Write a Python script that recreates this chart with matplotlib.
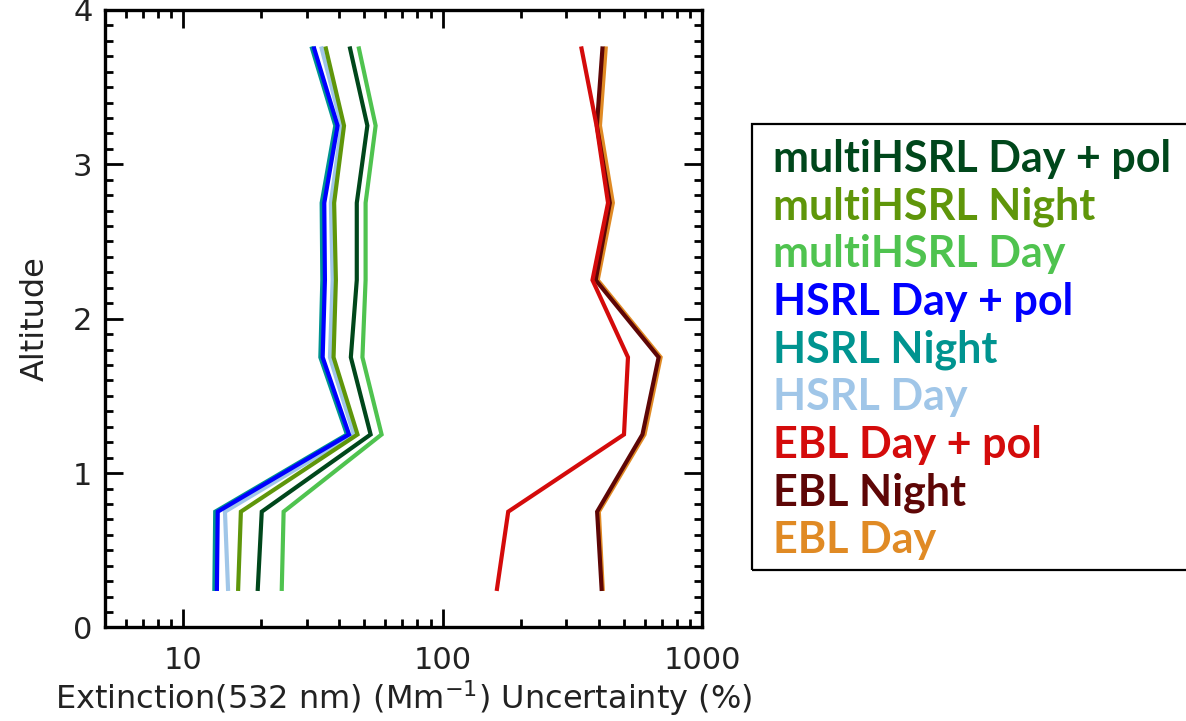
import numpy as np
import matplotlib
matplotlib.use("Agg")
import matplotlib.pyplot as plt
from matplotlib.patches import Rectangle
from matplotlib.ticker import LogLocator, NullFormatter, FixedLocator, MultipleLocator

# ── Data ─────────────────────────────────────────────────────────────────────
altitude = [0.25, 0.75, 1.25, 1.75, 2.25, 2.75, 3.25, 3.75]

multi_day_pol   = [19.4, 20.1, 52.8, 44.3, 46.7, 46.7, 51.3, 44.0]
multi_night     = [16.3, 16.7, 47.0, 38.0, 38.8, 38.2, 41.7, 35.5]
multi_day       = [24.0, 24.4, 58.2, 49.1, 50.5, 50.5, 55.2, 47.6]
hsrl_day_pol    = [13.5, 13.6, 43.6, 34.5, 35.2, 35.0, 39.4, 32.0]
hsrl_night      = [13.2, 13.3, 42.8, 33.8, 34.4, 34.2, 38.6, 31.4]
hsrl_day        = [14.9, 14.5, 45.5, 36.8, 37.7, 37.1, 40.8, 34.2]
ebl_day_pol     = [162, 179, 500, 518, 378, 434, 392, 343]
ebl_night       = [410, 394, 589, 680, 389, 441, 393, 413]
ebl_day         = [414, 400, 600, 692, 396, 453, 404, 425]

labels = ["multiHSRL Day + pol", "multiHSRL Night", "multiHSRL Day",
          "HSRL Day + pol", "HSRL Night", "HSRL Day",
          "EBL Day + pol", "EBL Night", "EBL Day"]
series = [multi_day_pol, multi_night, multi_day,
          hsrl_day_pol, hsrl_night, hsrl_day,
          ebl_day_pol, ebl_night, ebl_day]
colors = ["#00471b", "#5f960a", "#4fc34f",
          "#0000ff", "#009490", "#a0c6e8",
          "#d40b0b", "#5e0606", "#e08a24"]

# ── Figure ──────────────────────────────────────────────────────────────────
W, H = 1186, 721
fig = plt.figure(figsize=(W / 100, H / 100), dpi=100)
ax = fig.add_axes([0.0885, 0.1297, 0.5035, 0.8566])

# IDL-style: last series drawn first
for vals, col in reversed(list(zip(series, colors))):
    ax.plot(vals, altitude, color=col, linewidth=3.0, solid_joinstyle="miter")

ax.set_xscale("log")
ax.set_xlim(5, 1000)
ax.set_ylim(0, 4)

ax.xaxis.set_major_locator(FixedLocator([10, 100, 1000]))
ax.xaxis.set_major_formatter(plt.FuncFormatter(lambda v, p: f"{v:g}"))
ax.xaxis.set_minor_locator(LogLocator(base=10, subs=np.arange(2, 10)))
ax.xaxis.set_minor_formatter(NullFormatter())
ax.yaxis.set_major_locator(MultipleLocator(1))
ax.yaxis.set_minor_locator(MultipleLocator(0.1))

ax.tick_params(which="both", direction="in", top=True, right=True, width=2, colors="black")
ax.tick_params(which="major", length=13)
ax.tick_params(which="minor", length=6)
ax.tick_params(axis="x", which="major", pad=13, labelsize=22, labelcolor="#222222")
ax.tick_params(axis="y", which="major", pad=9, labelsize=22, labelcolor="#222222")
for s in ax.spines.values():
    s.set_linewidth(2.4)

ax.set_xlabel("Extinction(532 nm) (Mm$^{-1}$) Uncertainty (%)", fontsize=23,
              color="#222222", va="center")
ax.xaxis.set_label_coords(0.5, -0.114)
ax.set_ylabel("Altitude", fontsize=23, color="#222222", va="center")
ax.yaxis.set_label_coords(-0.117, 0.5)

# ── Legend box with coloured labels (box runs past the right edge) ──────────
fig.patches.append(Rectangle((752 / W, 1 - 570 / H), (1200 - 752) / W, (570 - 124) / H,
                             transform=fig.transFigure, fill=False,
                             edgecolor="black", linewidth=1.6))
for i, (lab, col) in enumerate(zip(labels, colors)):
    fig.text(773 / W, 1 - (171.7 + 47.7 * i) / H, lab, color=col,
             fontsize=31, fontweight="bold", family=["Lato", "DejaVu Sans"],
             va="baseline", ha="left")

fig.savefig("out.png", dpi=100)
